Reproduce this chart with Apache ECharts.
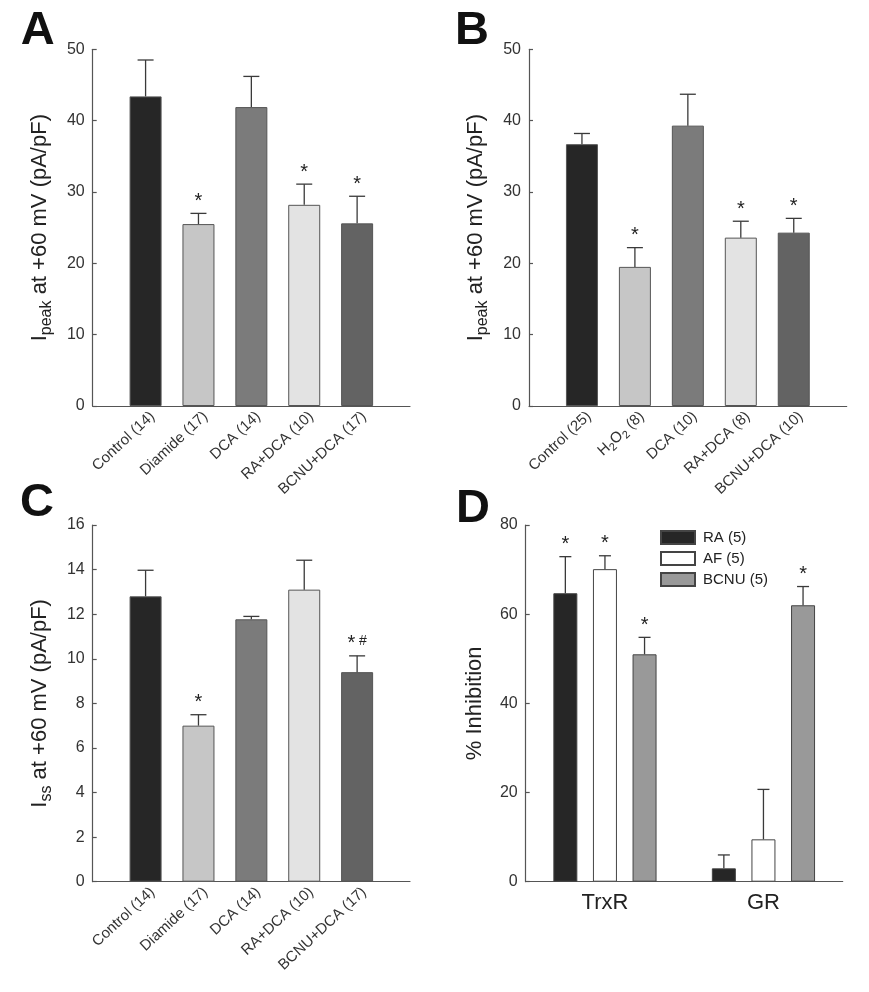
<!DOCTYPE html>
<html><head><meta charset="utf-8">
<script src="https://cdn.jsdelivr.net/npm/echarts@6/dist/echarts.min.js"></script>
<style>html,body{margin:0;padding:0;background:#fff}#c{width:869px;height:992px}</style>
</head><body><div id="c"></div>
<script>
// ---------- data ----------
const catsA = ['Control (14)', 'Diamide (17)', 'DCA (14)', 'RA+DCA (10)', 'BCNU+DCA (17)'];
const meanA = [43.4, 25.5, 41.9, 28.2, 25.6];
const semA  = [5.1, 1.5, 4.3, 2.9, 3.8];
const sigA  = ['', '*', '', '*', '*'];

const catsB = ['Control (25)', 'H2O2 (8)', 'DCA (10)', 'RA+DCA (8)', 'BCNU+DCA (10)'];
const meanB = [36.7, 19.5, 39.3, 23.6, 24.3];
const semB  = [1.5, 2.7, 4.4, 2.3, 2.0];
const sigB  = ['', '*', '', '*', '*'];

const catsC = ['Control (14)', 'Diamide (17)', 'DCA (14)', 'RA+DCA (10)', 'BCNU+DCA (17)'];
const meanC = [12.8, 7.0, 11.77, 13.1, 9.4];
const semC  = [1.17, 0.49, 0.13, 1.32, 0.73];
const sigC  = ['', '*', '', '', '*#'];

const catsD   = ['TrxR', 'GR'];
const seriesD = ['RA (5)', 'AF (5)', 'BCNU (5)'];
const meanD_RA   = [64.7, 3.0];
const semD_RA    = [8.2, 3.0];
const meanD_AF   = [70.1, 9.5];
const semD_AF    = [3.0, 11.2];
const meanD_BCNU = [51.0, 62.0];
const semD_BCNU  = [3.8, 4.2];
const sigD_RA   = ['*', ''];
const sigD_AF   = ['*', ''];
const sigD_BCNU = ['*', '*'];

// ---------- styles ----------
const FONT = 'Liberation Sans, Arial, Helvetica, sans-serif';
const barColors = ['#262626', '#c6c6c6', '#7b7b7b', '#e3e3e3', '#636363'];
const dColors = ['#262626', '#ffffff', '#999999'];
const AXIS = '#555';
const ERR = '#3a3a3a';

const grids = [
  {left: 92.7, top: 49.3, width: 317.3, height: 356.7},
  {left: 529, top: 49.3, width: 317.7, height: 356.7},
  {left: 92.7, top: 525, width: 317.3, height: 356.7},
  {left: 525.7, top: 525, width: 317, height: 356.7}
].map(g => Object.assign({outerBoundsMode: 'none', containLabel: false}, g));

function sigText(s) {
  return s.replace('#', '{h| #}');
}

function errRender(sigs, capHalf, offset) {
  return function (params, api) {
    const x = api.value(0);
    const p0 = api.coord([x, api.value(1)]);
    const p1 = api.coord([x, api.value(2)]);
    const cx = p0[0] + offset;
    const children = [
      {type: 'line', shape: {x1: cx, y1: p0[1], x2: cx, y2: p1[1]}, style: {stroke: ERR, lineWidth: 1.3}},
      {type: 'line', shape: {x1: cx - capHalf, y1: p1[1], x2: cx + capHalf, y2: p1[1]}, style: {stroke: ERR, lineWidth: 1.3}}
    ];
    const s = sigs[params.dataIndex];
    if (s) {
      children.push({
        type: 'text',
        style: {
          text: sigText(s), x: cx, y: p1[1] - 12,
          align: 'center', verticalAlign: 'middle',
          textAlign: 'center', textVerticalAlign: 'middle',
          fontSize: 20, fontFamily: FONT, fill: '#222',
          lineHeight: 20,
          rich: {h: {fontSize: 14, fontFamily: FONT, fill: '#222', lineHeight: 14, verticalAlign: 'top'}}
        }
      });
    }
    return {type: 'group', children: children};
  };
}

const xAxes = [], yAxes = [], series = [];

function yAxisCfg(gi, max, interval, name, extra) {
  return Object.assign({
    type: 'value', gridIndex: gi, min: 0, max: max, interval: interval,
    axisLine: {show: true, lineStyle: {color: AXIS, width: 1.2}},
    axisTick: {show: true, inside: true, length: 4, lineStyle: {color: AXIS, width: 1.2}},
    splitLine: {show: false},
    axisLabel: {fontSize: 16, color: '#333', margin: 8, fontFamily: FONT},
    name: name, nameLocation: 'middle', nameRotate: 90, nameGap: 38,
    nameTextStyle: {
      fontSize: 22, color: '#222', fontFamily: FONT, lineHeight: 30,
      rich: {
        m: {fontSize: 22, color: '#222', fontFamily: FONT, lineHeight: 30, verticalAlign: 'middle'},
        s: {fontSize: 16, color: '#222', fontFamily: FONT, lineHeight: 16, verticalAlign: 'bottom'}
      }
    }
  }, extra || {});
}

function addPanel(gi, cats, means, sems, sigs, max, interval, yName) {
  xAxes.push({
    type: 'category', gridIndex: gi, data: [''].concat(cats, ['']), boundaryGap: false,
    axisLine: {show: true, lineStyle: {color: AXIS, width: 1.2}},
    axisTick: {show: false},
    axisLabel: {
      interval: 0, rotate: 43, fontSize: 15, color: '#333', margin: 8, fontFamily: FONT, lineHeight: 20,
      padding: [10, -5, 0, 0],
      formatter: function (v) { return v.replace('H2O2', 'H{s|2}O{s|2}'); },
      rich: {s: {fontSize: 11, color: '#333', fontFamily: FONT, lineHeight: 11, verticalAlign: 'bottom'}}
    }
  });
  yAxes.push(yAxisCfg(gi, max, interval, yName));
  const bars = ['-'].concat(means.map((v, i) => ({value: v, itemStyle: {color: barColors[i]}})), ['-']);
  series.push({
    type: 'bar', xAxisIndex: gi, yAxisIndex: gi, barWidth: 32, data: bars,
    itemStyle: {borderColor: '#555', borderWidth: 1}, silent: true, animation: false
  });
  series.push({
    type: 'custom', xAxisIndex: gi, yAxisIndex: gi, z: 5, animation: false, silent: true,
    renderItem: errRender(sigs, 8, 0),
    encode: {x: 0, y: [1, 2]},
    data: means.map((v, i) => [i + 1, v, v + sems[i]])
  });
}

addPanel(0, catsA, meanA, semA, sigA, 50, 10, '{m|I}{s|peak}{m| at +60 mV (pA/pF)}');
addPanel(1, catsB, meanB, semB, sigB, 50, 10, '{m|I}{s|peak}{m| at +60 mV (pA/pF)}');
addPanel(2, catsC, meanC, semC, sigC, 16, 2, '{m|I}{s|ss}{m| at +60 mV (pA/pF)}');

// panel D
xAxes.push({
  type: 'category', gridIndex: 3, data: catsD, boundaryGap: true,
  axisLine: {show: true, lineStyle: {color: AXIS, width: 1.2}},
  axisTick: {show: false},
  axisLabel: {fontSize: 22, color: '#222', margin: 10, fontFamily: FONT}
});
yAxes.push(yAxisCfg(3, 80, 20, '% Inhibition', {nameGap: 36}));
const dMeans = [meanD_RA, meanD_AF, meanD_BCNU];
const dSems = [semD_RA, semD_AF, semD_BCNU];
const dSigs = [sigD_RA, sigD_AF, sigD_BCNU];
const dOffsets = [-39.6, 0, 39.6];
dMeans.forEach((m, k) => {
  series.push({
    type: 'bar', name: seriesD[k], xAxisIndex: 3, yAxisIndex: 3, barWidth: 24, barGap: '65%',
    itemStyle: {color: dColors[k], borderColor: '#444', borderWidth: 1}, data: m, animation: false, silent: true
  });
});
dMeans.forEach((m, k) => {
  series.push({
    type: 'custom', xAxisIndex: 3, yAxisIndex: 3, z: 5, animation: false, silent: true,
    renderItem: errRender(dSigs[k], 6, dOffsets[k]),
    encode: {x: 0, y: [1, 2]},
    data: m.map((v, i) => [i, v, v + dSems[k][i]])
  });
});

const letters = [
  {t: 'A', x: 20.7, y: 31}, {t: 'B', x: 455, y: 31},
  {t: 'C', x: 20, y: 503}, {t: 'D', x: 456, y: 509}
];

const chart = echarts.init(document.getElementById('c'), null, {renderer: 'canvas'});
chart.setOption({
  backgroundColor: '#fff',
  animation: false,
  textStyle: {fontFamily: FONT},
  grid: grids,
  xAxis: xAxes,
  yAxis: yAxes,
  legend: {
    data: seriesD, orient: 'vertical', left: 660, top: 530, padding: 0,
    itemWidth: 34, itemHeight: 13, itemGap: 6, icon: 'rect',
    textStyle: {fontSize: 15, color: '#222', fontFamily: FONT, padding: [0, 0, 0, 3]},
    selectedMode: false
  },
  graphic: letters.map(l => ({
    type: 'text', x: l.x, y: l.y, silent: true,
    style: {text: l.t, x: 0, y: 0, fontSize: 47, fontWeight: 'bold', fontFamily: FONT, fill: '#111',
            align: 'left', verticalAlign: 'middle', textAlign: 'left', textVerticalAlign: 'middle'}
  })),
  series: series
});
</script>
</body></html>
